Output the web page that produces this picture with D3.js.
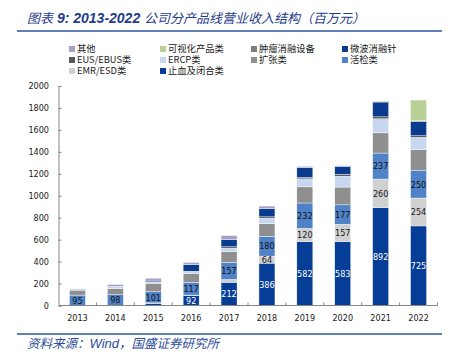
<!DOCTYPE html>
<html>
<head>
<meta charset="utf-8">
<script src="https://cdn.jsdelivr.net/npm/d3@7"></script>
<style>
	body { margin: 0; background: #fff; }
	svg { display: block; }
	.tick-label { font-family: "DejaVu Sans Condensed", "DejaVu Sans", sans-serif; font-stretch: condensed; font-size: 9px; fill: #1a1a1a; }
	.bar-label { font-family: "DejaVu Sans Condensed", "DejaVu Sans", sans-serif; font-stretch: condensed; font-size: 9px; }
	.legend-text { font-family: "Noto Sans CJK SC", sans-serif; font-size: 9.3px; fill: #222; }
</style>
</head>
<body>
<svg width="454" height="362"></svg>
<script>
// data (millions of yuan)
var years = ['2013','2014','2015','2016','2017','2018','2019','2020','2021','2022'];
var zhixue   = [0, 0, 20, 92, 212, 386, 582, 583, 892, 725];   // 止血及闭合类
var emr      = [0, 0, 4, 3, 25, 64, 120, 157, 260, 254];       // EMR/ESD类
var huojian  = [95, 98, 101, 117, 157, 180, 232, 177, 237, 250]; // 活检类
var kuozhang = [45, 57, 78, 80, 98, 116, 147, 162, 184, 190];  // 扩张类
var ercp     = [12, 18, 10, 15, 31, 50, 73, 99, 128, 113];     // ERCP类
var eus      = [0, 3, 3, 5, 12, 12, 12, 18, 18, 15];           // EUS/EBUS类
var weibo    = [0, 0, 15, 60, 67, 73, 92, 73, 135, 130];       // 微波消融针
var zhongliu = [0, 0, 0, 0, 0, 0, 0, 0, 3, 8];                 // 肿瘤消融设备
var keshihua = [0, 0, 0, 0, 0, 0, 0, 0, 6, 187];               // 可视化产品类
var qita     = [3, 15, 18, 20, 35, 25, 10, 5, 0, 0];           // 其他
var yTicks = [0, 200, 400, 600, 800, 1000, 1200, 1400, 1600, 1800, 2000];

// stack order bottom -> top
var series = [
	{ key: 'zhixue',   name: '止血及闭合类', values: zhixue,   color: '#063d96' },
	{ key: 'emr',      name: 'EMR/ESD类',    values: emr,      color: '#d0d0d0' },
	{ key: 'huojian',  name: '活检类',       values: huojian,  color: '#4f82c6' },
	{ key: 'kuozhang', name: '扩张类',       values: kuozhang, color: '#8f8f8f' },
	{ key: 'ercp',     name: 'ERCP类',       values: ercp,     color: '#c6d7ef' },
	{ key: 'eus',      name: 'EUS/EBUS类',   values: eus,      color: '#595959' },
	{ key: 'weibo',    name: '微波消融针',   values: weibo,    color: '#0b3b8e' },
	{ key: 'zhongliu', name: '肿瘤消融设备', values: zhongliu, color: '#7f7f7f' },
	{ key: 'keshihua', name: '可视化产品类', values: keshihua, color: '#b8cf96' },
	{ key: 'qita',     name: '其他',         values: qita,     color: '#a79fc4' }
];
var legendOrder = ['qita','keshihua','zhongliu','weibo','eus','ercp','kuozhang','huojian','emr','zhixue'];

var svg = d3.select("svg");

var table = years.map(function(y, i) {
	var row = { year: y };
	series.forEach(function(s) { row[s.key] = s.values[i]; });
	return row;
});

var stack = d3.stack().keys(series.map(function(s) { return s.key; }));
var stacked = stack(table);

var x = d3.scaleBand()
	.domain(years)
	.range([58.5, 437.5])
	.paddingInner(0.578)
	.paddingOuter(0.289);

var y = d3.scaleLinear()
	.domain([0, 2000])
	.range([305.5, 86]);

var colorOf = {};
series.forEach(function(s) { colorOf[s.key] = s.color; });

//Title
var title = svg.append("text")
	.attr("x", 27)
	.attr("y", 23)
	.attr("fill", "#1f3c8a")
	.style("font-style", "italic");
title.append("tspan")
	.style("font-family", "'Noto Sans CJK SC'")
	.style("font-size", "13px")
	.text("图表");
title.append("tspan")
	.style("font-family", "'Liberation Sans', Arial")
	.style("font-size", "14px")
	.style("font-weight", "bold")
	.text(" 9:  2013-2022 ");
title.append("tspan")
	.style("font-family", "'Noto Sans CJK SC'")
	.style("font-size", "13px")
	.text("公司分产品线营业收入结构（百万元）");

svg.append("line")
	.attr("x1", 17).attr("x2", 442)
	.attr("y1", 31).attr("y2", 31)
	.attr("stroke", "#2c54a2")
	.attr("stroke-width", 1.5);

//Legend
var legCols = [69, 160, 251, 342];
var legRows = [49, 60, 71];
var legend = svg.append("g").attr("class", "legend")
	.selectAll("g")
	.data(legendOrder)
	.enter().append("g")
		.attr("transform", function(d, i) {
			return "translate(" + legCols[i % 4] + "," + legRows[Math.floor(i / 4)] + ")";
		});
legend.append("rect")
	.attr("x", 0).attr("y", -3)
	.attr("width", 6).attr("height", 6)
	.attr("fill", function(d) { return colorOf[d]; });
legend.append("text")
	.attr("class", "legend-text")
	.attr("x", 8)
	.attr("dy", "0.35em")
	.text(function(d) { return series.filter(function(s) { return s.key == d; })[0].name; });

//Bars
var layer = svg.append("g")
	.selectAll("g")
	.data(stacked)
	.enter().append("g")
		.attr("fill", function(d) { return colorOf[d.key]; });

layer.selectAll("rect")
	.data(function(d) { return d; })
	.enter().append("rect")
		.attr("x", function(d) { return x(d.data.year); })
		.attr("width", x.bandwidth())
		.attr("y", function(d) { return y(d[1]); })
		.attr("height", function(d) { return Math.max(0, y(d[0]) - y(d[1])); })
		.attr("stroke", "#fff")
		.attr("stroke-width", 0.4);

//Data labels
var labelled = [
	{ key: 'zhixue', min: 90, color: '#fff' },
	{ key: 'emr', min: 60, color: '#1a1a1a' },
	{ key: 'huojian', min: 0, color: '#111' }
];
labelled.forEach(function(l) {
	var lay = stacked.filter(function(s) { return s.key == l.key; })[0];
	svg.append("g")
		.selectAll("text")
		.data(lay.filter(function(d) { return d.data[l.key] >= l.min && d.data[l.key] > 0; }))
		.enter().append("text")
			.attr("class", "bar-label")
			.attr("x", function(d) { return x(d.data.year) + x.bandwidth() / 2; })
			.attr("y", function(d) { return (y(d[0]) + y(d[1])) / 2; })
			.attr("dy", "0.36em")
			.attr("text-anchor", "middle")
			.attr("fill", l.color)
			.text(function(d) { return d.data[l.key]; });
});

//Axes
var yAxis = svg.append("g")
	.attr("transform", "translate(58.5,0)")
	.call(d3.axisRight(y).tickValues(yTicks).tickSize(3).tickFormat(""));
yAxis.selectAll("line, path").attr("stroke", "#868686");

svg.append("g")
	.selectAll("text")
	.data(yTicks)
	.enter().append("text")
		.attr("class", "tick-label")
		.attr("x", 49)
		.attr("y", function(d) { return y(d); })
		.attr("dy", "0.36em")
		.attr("text-anchor", "end")
		.text(function(d) { return d; });

var xAxis = svg.append("g");
xAxis.append("line")
	.attr("x1", 58.5).attr("x2", 437.5)
	.attr("y1", 305.5).attr("y2", 305.5)
	.attr("stroke", "#868686");
xAxis.selectAll(".xt")
	.data(years.slice(1).concat(['end']))
	.enter().append("line")
		.attr("class", "xt")
		.attr("x1", function(d, i) { return d == 'end' ? 437.5 : x(d) - x.step() * x.paddingInner() / 2; })
		.attr("x2", function(d, i) { return d == 'end' ? 437.5 : x(d) - x.step() * x.paddingInner() / 2; })
		.attr("y1", 305.5).attr("y2", 302.5)
		.attr("stroke", "#868686");

svg.append("g")
	.selectAll("text")
	.data(years)
	.enter().append("text")
		.attr("class", "tick-label")
		.attr("x", function(d) { return x(d) + x.bandwidth() / 2; })
		.attr("y", 318)
		.attr("dy", "0.36em")
		.attr("text-anchor", "middle")
		.text(function(d) { return d; });

//Source line
svg.append("line")
	.attr("x1", 17).attr("x2", 442)
	.attr("y1", 334).attr("y2", 334)
	.attr("stroke", "#2c54a2")
	.attr("stroke-width", 1.5);

var source = svg.append("text")
	.attr("x", 27)
	.attr("y", 348)
	.attr("fill", "#2b4c9b")
	.style("font-style", "italic")
	.style("font-family", "'Noto Sans CJK SC'")
	.style("font-size", "12.5px");
source.append("tspan").text("资料来源：");
source.append("tspan").style("font-family", "'Liberation Sans', Arial").style("font-size", "13px").text("Wind");
source.append("tspan").text("，国盛证券研究所");
</script>
</body>
</html>
